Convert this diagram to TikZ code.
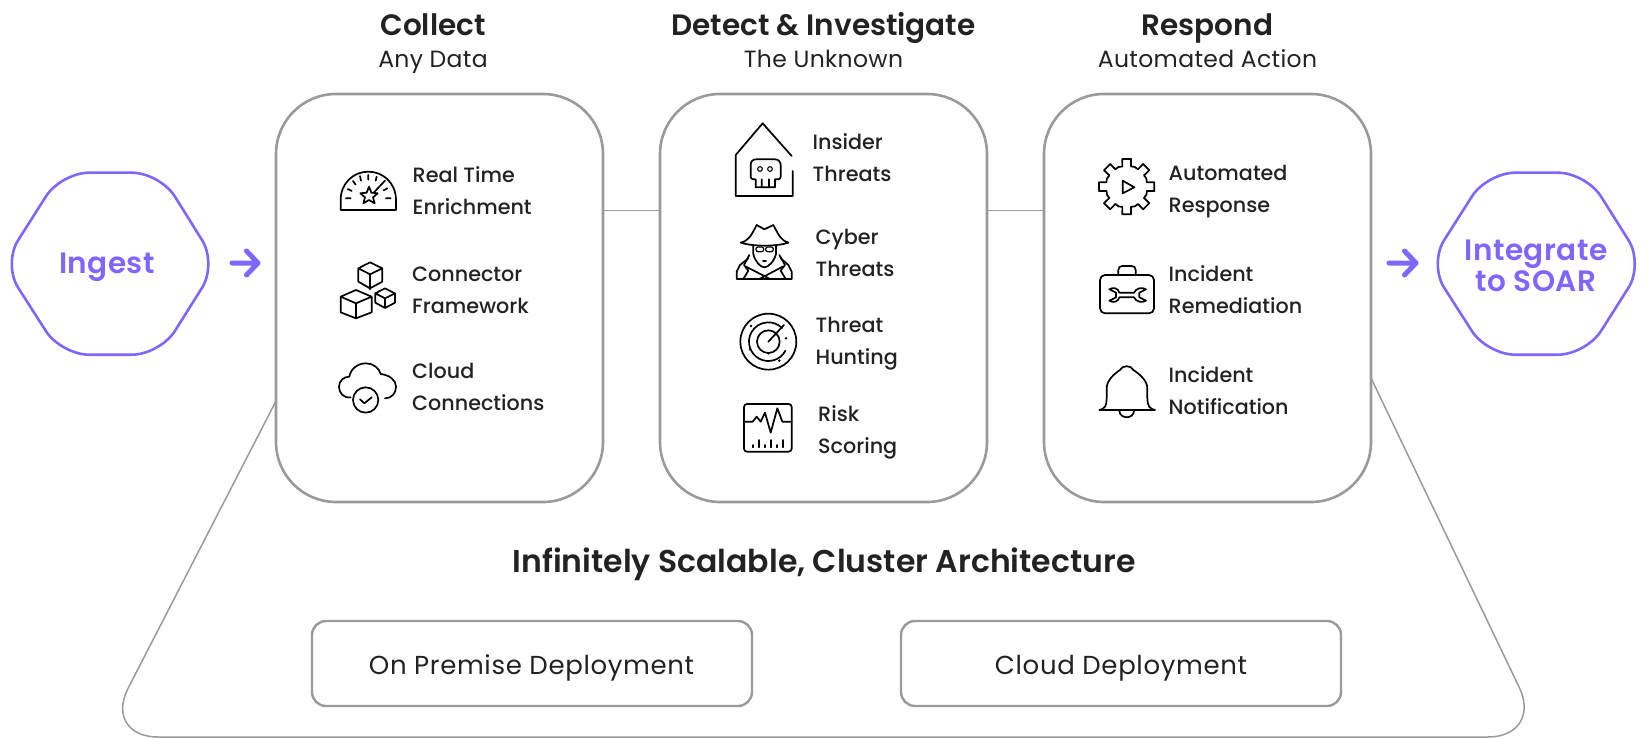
\documentclass[tikz,border=0pt]{standalone}
\usepackage{fontspec}
\usetikzlibrary{calc}
\setmainfont{Poppins}[LetterSpace=1.5]
\newfontfamily\fdep{Poppins}[LetterSpace=2.5]
\newfontfamily\fmed{Poppins Medium}
\newfontfamily\fsemi{Poppins SemiBold}
\newfontfamily\fpur{Poppins SemiBold}[LetterSpace=1.5]
\definecolor{purp}{HTML}{7E67FF}
\definecolor{frame}{HTML}{9A9A9A}
\definecolor{ink}{HTML}{222222}
\tikzset{
  panel/.style={draw=frame,line width=2.6pt,fill=white,rounded corners=60pt,minimum width=327pt,minimum height=408pt,inner sep=0pt,outer sep=0pt,anchor=north west},
  deploy/.style={draw=frame,line width=2.4pt,fill=white,rounded corners=14pt,minimum width=440pt,minimum height=85pt,inner sep=0pt,outer sep=0pt,anchor=north west},
  hexa/.style={draw=purp,line width=2.6pt,rounded corners=28pt,line join=round},
  thin/.style={draw=frame,line width=1.5pt},
  flow/.style={draw=purp,line width=5pt,line cap=round,line join=round},
  item/.style={anchor=base west,inner sep=0pt,align=left,text=ink,font=\fmed\fontsize{20.7}{32}\selectfont},
  head/.style={anchor=base,inner sep=0pt,text=ink,font=\fsemi\fontsize{29.5}{32}\selectfont},
  sub/.style={anchor=base,inner sep=0pt,text=ink,font=\fontsize{23.5}{28}\selectfont},
  plabel/.style={anchor=base,inner sep=0pt,align=center,text=purp,font=\fpur\fontsize{29.5}{31}\selectfont},
  ico/.style={draw=black,line width=1.7pt,line join=round,line cap=round},
  icon/.style={shift={#1},x=0.33333pt,y=-0.33333pt},
}
\begin{document}
\begin{tikzpicture}[x=1pt,y=-1pt]
\useasboundingbox (0,0) rectangle (1644,738);
% base
\coordinate (tl) at (276,401);
\coordinate (tr) at (1371,378);
\coordinate (bl) at (103,737);
\coordinate (br) at (1543,737);
\draw[thin,rounded corners=55pt] (tl) -- (bl) -- (br) -- (tr);
% panels
\node[panel] (p1) at (276,94) {};
\node[panel] (p2) at (660,94) {};
\node[panel] (p3) at (1044,94) {};
\draw[thin] (p1.east |- 0,210.5) -- (p2.west |- 0,210.5);
\draw[thin] (p2.east |- 0,210.5) -- (p3.west |- 0,210.5);
% hexagons
\draw[hexa] (3,264) -- (61,172.7) -- (160,172.7) -- (217,264) -- (160,354.7) -- (61,354.7) -- cycle;
\draw[hexa] (1429,264) -- (1487,172.7) -- (1586,172.7) -- (1643.5,264) -- (1586,354.7) -- (1487,354.7) -- cycle;
\node[plabel] (ingest) at (107,273.5) {Ingest};
\node[plabel] (soar) at (1536,291) {Integrate\\to SOAR};
% arrows
\coordinate (a1s) at (232,263); \coordinate (a1e) at (258,263);
\coordinate (a2s) at (1389,263); \coordinate (a2e) at (1416,263);
\draw[flow] (a1s) -- (a1e) (246.5,251) -- (a1e) -- (246.5,275);
\draw[flow] (a2s) -- (a2e) (1404.5,251) -- (a2e) -- (1404.5,275);
% headers
\node[head] (h1) at (433,36) {Collect};
\node[sub] (s1) at (433,68) {Any Data};
\node[head] (h2) at (823.5,36) {Detect \& Investigate};
\node[sub] (s2) at (823.5,68) {The Unknown};
\node[head] (h3) at (1207.5,36) {Respond};
\node[sub] (s3) at (1207.5,68) {Automated Action};
% items
\node[item] at (412.5,214.5) {Real Time\\Enrichment};
\node[item] at (412,313.5) {Connector\\Framework};
\node[item] at (412,410.5) {Cloud\\Connections};
\node[item] at (812.5,182) {Insider\\Threats};
\node[item] at (815.5,276.5) {Cyber\\Threats};
\node[item] at (815.5,364) {Threat\\Hunting};
\node[item] at (818,453) {Risk\\Scoring};
\node[item] at (1168.5,212.5) {Automated\\Response};
\node[item] at (1168.5,313) {Incident\\Remediation};
\node[item] at (1168.5,414) {Incident\\Notification};
% bottom
\node[head,font=\fsemi\fontsize{31.5}{34}\selectfont] (inf) at (824,572) {Infinitely Scalable, Cluster Architecture};
\node[deploy] (d1) at (312,621) {};
\node[deploy] (d2) at (901,621) {};
\node[sub,font=\fdep\fontsize{26}{30}\selectfont] at (531.5,674) {On Premise Deployment};
\node[sub,font=\fdep\fontsize{26}{30}\selectfont] at (1121,674) {Cloud Deployment};
% icons, column 1
\begin{scope}[icon={(330,150)}]
 \draw[ico] (32,180) -- (32,150) .. controls (32,100) and (70,65) .. (115,65) .. controls (160,65) and (198,100) .. (198,150) -- (198,180) -- cycle;
 \draw[ico] (48,145) -- (62,145) (53,117) -- (65,123) (69,93) -- (77,104) (90,78) -- (93,92) (115,75) -- (115,89) (140,80) -- (137,92) (161,121) -- (172,115) (168,145) -- (182,145);
 \draw[ico] (165,92) -- (133,126);
 \draw[ico] (117,110) -- (124,128) -- (143,130) -- (129,142) -- (134,160) -- (117,150) -- (100,160) -- (105,142) -- (91,130) -- (110,128) -- cycle;
 \draw[ico] (120,337) -- (157,355) -- (157,395) -- (120,415) -- (85,395) -- (85,355) -- cycle (85,355) -- (120,373) -- (157,355) (120,373) -- (120,418);
 \draw[ico] (78,420) -- (125,440) -- (125,487) -- (78,505) -- (32,487) -- (32,440) -- cycle (32,440) -- (78,460) -- (125,440) (78,460) -- (78,505);
 \draw[ico] (165,415) -- (195,430) -- (195,458) -- (165,474) -- (136,458) -- (136,430) -- cycle (136,430) -- (165,445) -- (195,430) (165,445) -- (165,474);
 \draw[ico] (62,742) .. controls (40,745) and (27,728) .. (27,710) .. controls (27,692) and (42,680) .. (58,680) .. controls (62,655) and (85,640) .. (108,640) .. controls (130,640) and (148,655) .. (152,672) .. controls (178,675) and (198,690) .. (198,710) .. controls (198,730) and (185,745) .. (165,745);
 \draw[ico] (107,750) circle[radius=38];
 \draw[ico] (90,748) -- (103,760) -- (125,742);
\end{scope}
% icons, column 2
\begin{scope}[icon={(720,110)}]
 \draw[ico] (215,138) -- (128,40) -- (47,135) -- (47,258) -- (218,258) -- (218,183);
 \draw[ico] (107,232) -- (107,208) -- (100,208) .. controls (95,208) and (92,204) .. (92,200) -- (92,165) .. controls (92,155) and (98,148) .. (108,148) -- (165,148) .. controls (175,148) and (182,155) .. (182,165) -- (182,200) .. controls (182,204) and (179,208) .. (175,208) -- (165,208) -- (165,232) -- cycle (125,208) -- (125,232) (147,208) -- (147,232) (107,232) -- (165,232);
 \draw[ico,line width=1.1pt] (120,177) circle[radius=7] (150,177) circle[radius=7];
 \draw[ico] (62,398) .. controls (85,392) and (92,380) .. (110,345) -- (133,358) -- (160,345) .. controls (178,380) and (185,392) .. (205,398) .. controls (170,410) and (100,410) .. (62,398) -- cycle;
 \draw[ico] (100,408) -- (100,432) .. controls (105,455) and (122,472) .. (133,472) .. controls (145,472) and (162,455) .. (168,432) -- (168,408);
 \draw[ico,line width=1.2pt,rounded corners=2pt] (108,411) rectangle (131,425) (137,411) rectangle (160,425);
 \draw[ico] (129,452) -- (138,452);
 \draw[ico] (50,507) -- (50,485) -- (60,465) -- (85,445) (215,507) -- (215,485) -- (205,465) -- (182,445) (50,507) -- (215,507);
 \draw[ico] (88,435) -- (72,465) -- (85,482) -- (70,507) (178,435) -- (195,465) -- (182,482) -- (197,507);
 \draw[ico] (78,470) -- (150,507) (188,470) -- (118,507);
 \coordinate (rc) at (145,695);
 \draw[ico] (rc) circle[radius=84] (rc) circle[radius=34];
 \draw[ico] ($(rc)+(28:58)$) arc[start angle=28,end angle=315,radius=58];
 \draw[ico] (rc) -- (192,645);
 \foreach \p in {(93,648),(178,752),(90,718),(145,730),(198,685)} \fill \p circle[radius=4];
 \draw[ico,rounded corners=3pt] (72,882) rectangle (215,1025);
 \draw[ico] (72,935) -- (98,935) -- (110,920) -- (122,935) -- (135,908) -- (152,968) -- (172,895) -- (187,935) -- (215,935);
 \draw[ico] (98,1005) -- (98,1012) (117,990) -- (117,1012) (135,1005) -- (135,1012) (153,990) -- (153,1012) (172,1005) -- (172,1012) (190,990) -- (190,1012);
\end{scope}
% icons, column 3
\begin{scope}[icon={(1090,150)}]
 \coordinate (gc) at (110,110);
 \foreach \a in {0,45,...,315}
   \draw[ico] ($(gc)+(\a-12:62)$) -- ($(gc)+(\a-9:84)$) -- ($(gc)+(\a+9:84)$) -- ($(gc)+(\a+12:62)$) -- ($(gc)+(\a+22:64)$) -- ($(gc)+(\a+33:62)$);
 \draw[ico] (98,92) -- (133,112) -- (98,130) -- cycle;
 \draw[ico,rounded corners=5pt] (30,375) rectangle (192,490);
 \draw[ico] (85,375) -- (85,360) .. controls (85,352) and (90,348) .. (97,348) -- (125,348) .. controls (132,348) and (137,352) .. (137,360) -- (137,375);
 \draw[ico] (58,418) .. controls (70,410) and (85,415) .. (88,428) -- (132,428) .. controls (138,415) and (155,410) .. (168,418) -- (148,428) -- (148,442) -- (168,452) .. controls (155,460) and (138,455) .. (132,442) -- (88,442) .. controls (85,455) and (70,460) .. (58,452) -- (78,442) -- (78,428) -- cycle;
 \draw[ico] (28,780) .. controls (45,778) and (50,765) .. (50,745) -- (50,715) .. controls (50,690) and (75,670) .. (90,660) .. controls (95,645) and (125,645) .. (130,660) .. controls (145,670) and (172,690) .. (172,715) -- (172,745) .. controls (172,765) and (178,778) .. (195,780) -- cycle;
 \draw[ico] (88,783) .. controls (90,808) and (130,808) .. (132,783);
\end{scope}
\end{tikzpicture}
\end{document}
